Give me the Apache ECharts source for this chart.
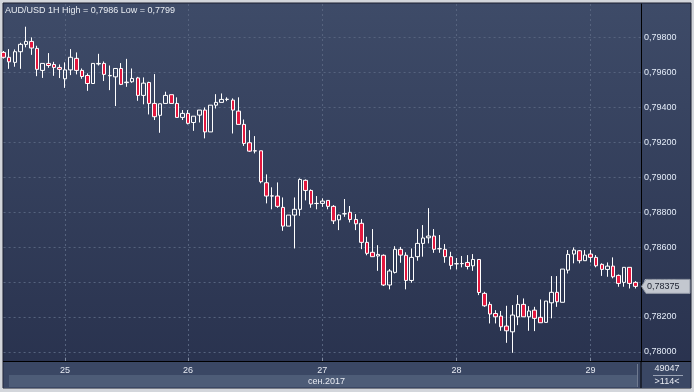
<!DOCTYPE html>
<html><head><meta charset="utf-8">
<script src="https://cdn.jsdelivr.net/npm/echarts@6.0.0/dist/echarts.min.js"></script>
<style>html,body{margin:0;padding:0;background:#d3d6db}#c{width:694px;height:392px}</style>
</head><body><div id="c"></div><script>
// AUD/USD 1H candles: open, close, low, high
const open = [0.79714,0.79686,0.79657,0.79718,0.79760,0.79777,0.79737,0.79611,0.79651,0.79645,
0.79628,0.79563,0.79614,0.79680,0.79611,0.79582,0.79536,0.79648,0.79651,0.79580,
0.79574,0.79622,0.79541,0.79546,0.79568,0.79468,0.79542,0.79422,0.79354,0.79422,
0.79472,0.79422,0.79342,0.79365,0.79313,0.79355,0.79384,0.79259,0.79412,0.79428,
0.79445,0.79441,0.79378,0.79302,0.79197,0.79151,0.79151,0.78968,0.78893,0.78892,
0.78827,0.78720,0.78783,0.78816,0.78982,0.78924,0.78850,0.78850,0.78867,0.78833,
0.78756,0.78790,0.78799,0.78758,0.78736,0.78627,0.78570,0.78549,0.78553,0.78383,
0.78455,0.78587,0.78553,0.78409,0.78545,0.78621,0.78653,0.78663,0.78590,0.78587,
0.78545,0.78505,0.78505,0.78512,0.78493,0.78529,0.78335,0.78272,0.78220,0.78205,
0.78148,0.78115,0.78201,0.78272,0.78201,0.78239,0.78198,0.78169,0.78281,0.78341,
0.78284,0.78468,0.78560,0.78579,0.78522,0.78560,0.78541,0.78501,0.78472,0.78491,
0.78438,0.78398,0.78484,0.78398];
const close = [0.79686,0.79660,0.79718,0.79760,0.79777,0.79739,0.79617,0.79651,0.79639,0.79628,
0.79617,0.79614,0.79686,0.79611,0.79576,0.79536,0.79651,0.79651,0.79588,0.79582,
0.79622,0.79531,0.79544,0.79565,0.79468,0.79538,0.79422,0.79346,0.79420,0.79468,
0.79422,0.79342,0.79365,0.79308,0.79349,0.79384,0.79259,0.79412,0.79428,0.79445,
0.79446,0.79384,0.79302,0.79193,0.79149,0.79150,0.78974,0.78892,0.78892,0.78833,
0.78720,0.78783,0.78816,0.78987,0.78924,0.78846,0.78849,0.78863,0.78833,0.78750,
0.78783,0.78791,0.78758,0.78733,0.78627,0.78564,0.78545,0.78558,0.78383,0.78463,
0.78587,0.78554,0.78409,0.78541,0.78621,0.78652,0.78663,0.78587,0.78591,0.78545,
0.78495,0.78504,0.78506,0.78489,0.78529,0.78340,0.78264,0.78217,0.78201,0.78144,
0.78121,0.78211,0.78272,0.78201,0.78234,0.78192,0.78167,0.78291,0.78341,0.78287,
0.78474,0.78558,0.78583,0.78522,0.78554,0.78541,0.78493,0.78472,0.78491,0.78430,
0.78392,0.78484,0.78392,0.78375];
const low = [0.79679,0.79620,0.79632,0.79620,0.79743,0.79700,0.79578,0.79568,0.79626,0.79580,
0.79567,0.79511,0.79584,0.79588,0.79563,0.79494,0.79536,0.79639,0.79550,0.79498,
0.79407,0.79527,0.79517,0.79540,0.79437,0.79417,0.79359,0.79327,0.79254,0.79422,
0.79422,0.79342,0.79327,0.79302,0.79265,0.79313,0.79222,0.79259,0.79393,0.79428,
0.79435,0.79250,0.79302,0.79179,0.79145,0.79136,0.78965,0.78850,0.78816,0.78825,
0.78693,0.78720,0.78592,0.78779,0.78867,0.78825,0.78816,0.78830,0.78816,0.78732,
0.78697,0.78773,0.78741,0.78697,0.78588,0.78553,0.78545,0.78464,0.78377,0.78358,
0.78449,0.78510,0.78358,0.78396,0.78522,0.78545,0.78621,0.78567,0.78567,0.78510,
0.78472,0.78472,0.78484,0.78472,0.78464,0.78325,0.78258,0.78163,0.78163,0.78121,
0.78052,0.77995,0.78153,0.78201,0.78121,0.78119,0.78167,0.78169,0.78192,0.78258,
0.78284,0.78449,0.78507,0.78507,0.78522,0.78512,0.78484,0.78435,0.78430,0.78421,
0.78373,0.78373,0.78363,0.78363];
const high = [0.79722,0.79733,0.79731,0.79769,0.79861,0.79800,0.79752,0.79651,0.79710,0.79660,
0.79645,0.79657,0.79733,0.79714,0.79622,0.79594,0.79651,0.79706,0.79662,0.79639,
0.79622,0.79653,0.79677,0.79622,0.79574,0.79571,0.79546,0.79590,0.79420,0.79489,
0.79472,0.79457,0.79384,0.79384,0.79349,0.79384,0.79399,0.79412,0.79475,0.79479,
0.79457,0.79451,0.79457,0.79330,0.79269,0.79235,0.79151,0.79016,0.78942,0.78970,
0.78884,0.78783,0.78884,0.78993,0.78987,0.78930,0.78892,0.78879,0.78867,0.78840,
0.78787,0.78875,0.78835,0.78789,0.78760,0.78659,0.78703,0.78611,0.78558,0.78474,
0.78605,0.78601,0.78570,0.78592,0.78703,0.78726,0.78823,0.78703,0.78669,0.78617,
0.78573,0.78537,0.78549,0.78554,0.78560,0.78529,0.78344,0.78287,0.78239,0.78234,
0.78264,0.78268,0.78325,0.78306,0.78262,0.78258,0.78300,0.78291,0.78434,0.78434,
0.78474,0.78583,0.78598,0.78583,0.78583,0.78583,0.78554,0.78507,0.78512,0.78541,
0.78443,0.78484,0.78484,0.78405];
// day tick positions (candle index) and labels
const dayIndex = [11, 33, 57, 81, 105];
const dayLabels = ['25', '26', '27', '28', '29'];
const yMin = 0.77944, yMax = 0.79991;
const lastPrice = 0.78375;
const titleText = 'AUD/USD 1H High = 0,7986 Low = 0,7799';
const monthText = 'сен.2017';
const infoTop = '49047', infoBottom = '>114<';

const categories = Array.from({length: open.length + 1}, (_, i) => String(i));
const candles = open.map((o, i) => [o, close[i], low[i], high[i]]);
const FONT = '"Liberation Sans", Arial, sans-serif';
const fmt = v => v.toFixed(5).replace('.', ',');
const isDay = i => dayIndex.indexOf(i) >= 0;

const chart = echarts.init(document.getElementById('c'), null, {renderer: 'canvas'});
chart.setOption({
  animation: false,
  backgroundColor: '#d3d6db',
  grid: {left: 3.6, right: 53.1, top: 4, bottom: 30.3, containLabel: false},
  xAxis: {
    type: 'category', data: categories, boundaryGap: false,
    axisLine: {show: true, lineStyle: {color: '#000', width: 1}},
    axisTick: {show: true, inside: true, length: 4, interval: isDay, lineStyle: {color: '#7f8aa0'}},
    axisLabel: {interval: isDay, formatter: (v, i) => dayLabels[dayIndex.indexOf(i)] || '',
      color: '#e6eaf2', fontSize: 9, fontFamily: FONT, margin: 4},
    splitLine: {show: true, interval: isDay, lineStyle: {color: '#56637e', type: [2, 3], width: 1}}
  },
  yAxis: {
    type: 'value', position: 'right', min: yMin, max: yMax, splitNumber: 10,
    axisLine: {show: true, lineStyle: {color: '#000', width: 1}},
    axisTick: {show: false},
    axisLabel: {color: '#e4ecf8', fontSize: 9, fontFamily: FONT, margin: 3,
      showMinLabel: false, showMaxLabel: false, formatter: fmt},
    splitLine: {show: true, showMinLine: false, showMaxLine: false,
      lineStyle: {color: '#56637e', type: [2, 3], width: 1}}
  },
  series: [{
    type: 'candlestick', data: candles, barWidth: 4, clip: true,
    itemStyle: {color: 'transparent', color0: '#e3173e', borderColor: '#ffffff', borderColor0: '#ffffff', borderWidth: 1}
  }]
});

const py = chart.convertToPixel({yAxisIndex: 0}, lastPrice);
chart.setOption({graphic: [
  {type: 'rect', z: -100, shape: {x: 3, y: 3, width: 688, height: 385},
    style: {fill: {type: 'linear', x: 0, y: 0, x2: 0, y2: 1, colorStops: [{offset: 0, color: '#3e4b68'}, {offset: 1, color: '#28314d'}]},
      stroke: '#1c2130', lineWidth: 1}},
  {type: 'rect', z: -90, shape: {x: 3.5, y: 362, width: 687, height: 26}, style: {fill: '#3a4764'}},
  {type: 'rect', z: -80, shape: {x: 9, y: 375, width: 628, height: 12}, style: {fill: '#4d5c77'}},
  {type: 'line', z: 50, shape: {x1: 3, y1: 361.5, x2: 691, y2: 361.5}, style: {stroke: '#000', lineWidth: 1}},
  {type: 'line', z: 50, shape: {x1: 641, y1: 361, x2: 641, y2: 388}, style: {stroke: '#000', lineWidth: 1}},
  {type: 'line', z: 50, shape: {x1: 637.5, y1: 364, x2: 637.5, y2: 387}, style: {stroke: '#6f7a90', lineWidth: 1}},
  {type: 'line', z: 50, shape: {x1: 653, y1: 375.5, x2: 683, y2: 375.5}, style: {stroke: '#9aa3b5', lineWidth: 1}},
  {type: 'text', z: 60, x: 5, y: 11, style: {text: titleText, fill: '#e8ecf2', font: '9px ' + FONT, verticalAlign: 'middle'}},
  {type: 'text', z: 60, x: 345, y: 381.5, style: {text: monthText, fill: '#e6eaf2', font: '9px ' + FONT, align: 'right', verticalAlign: 'middle'}},
  {type: 'text', z: 60, x: 667, y: 369, style: {text: infoTop, fill: '#e6eaf2', font: '9px ' + FONT, align: 'center', verticalAlign: 'middle'}},
  {type: 'text', z: 60, x: 667, y: 382, style: {text: infoBottom, fill: '#e6eaf2', font: '9px ' + FONT, align: 'center', verticalAlign: 'middle'}},
  {type: 'polygon', z: 70, shape: {points: [[641.5, py], [646, py - 7], [690, py - 7], [690, py + 7], [646, py + 7]]},
    style: {fill: '#c3c7cf', stroke: '#8e95a2', lineWidth: 1}},
  {type: 'text', z: 71, x: 647, y: py, style: {text: fmt(lastPrice), fill: '#1d2230', font: '9px ' + FONT, verticalAlign: 'middle'}}
]});
</script></body></html>
